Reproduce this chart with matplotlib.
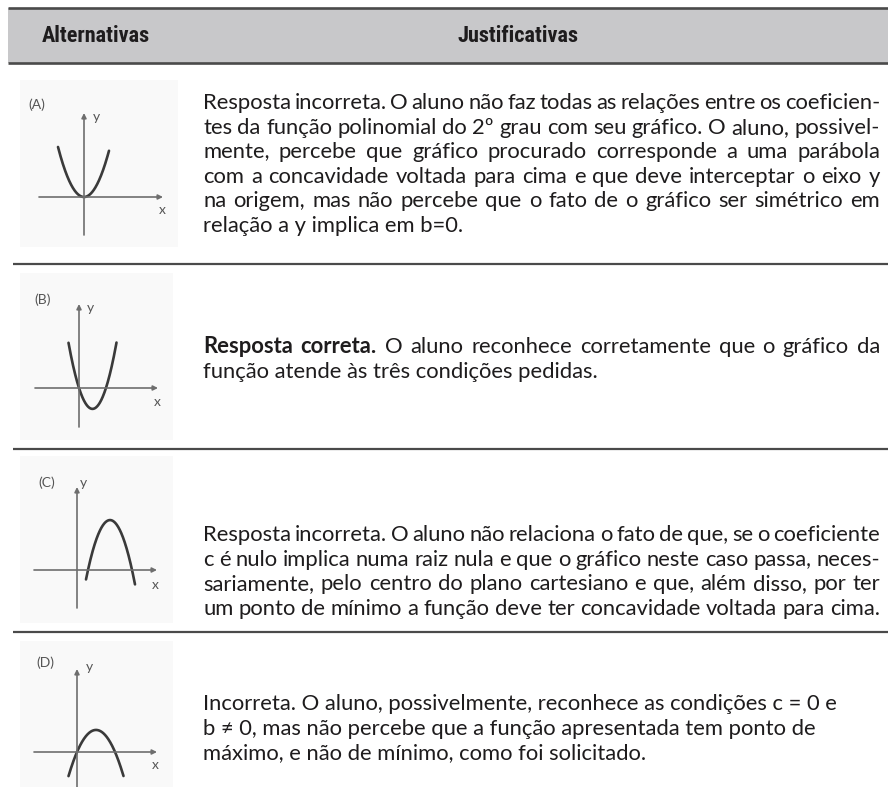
import matplotlib
matplotlib.use('Agg')
import matplotlib.pyplot as plt
from matplotlib.patches import Rectangle
from matplotlib import font_manager
import numpy as np

W, H = 888, 787
avail = {f.name for f in font_manager.fontManager.ttflist}
BODY = next(f for f in ['Lato', 'Open Sans', 'DejaVu Sans'] if f in avail)
HEAD = next(f for f in ['Roboto Condensed', 'Liberation Sans Narrow', BODY] if f in avail)
plt.rcParams['font.family'] = [BODY, 'DejaVu Sans']

# ---------------- data ----------------
header_left = 'Alternativas'
header_right = 'Justificativas'
letters = ['(A)', '(B)', '(C)', '(D)']
# parabolas y = a x^2 + b x + c  (sketch units)
coef_a = [0.74, 1.15, -1.03, -0.61]
coef_b = [0.0, -3.1, 6.8, 2.32]
coef_c = [0.0, 0.0, -6.23, 0.0]
x_from = [-2.6, -1.05, 0.9, -0.85]
x_to = [2.5, 3.75, 5.8, 4.65]

text_A = ['Resposta incorreta. O aluno não faz todas as relações entre os coeficien-',
          'tes da função polinomial do 2º grau com seu gráfico. O aluno, possivel-',
          'mente, percebe que gráfico procurado corresponde a uma parábola',
          'com a concavidade voltada para cima e que deve interceptar o eixo y',
          'na origem, mas não percebe que o fato de o gráfico ser simétrico em',
          'relação a y implica em b=0.']
text_B = ['Resposta correta. O aluno reconhece corretamente que o gráfico da',
          'função atende às três condições pedidas.']
text_C = ['Resposta incorreta. O aluno não relaciona o fato de que, se o coeficiente',
          'c é nulo implica numa raiz nula e que o gráfico neste caso passa, neces-',
          'sariamente, pelo centro do plano cartesiano e que, além disso, por ter',
          'um ponto de mínimo a função deve ter concavidade voltada para cima.']
text_D = ['Incorreta. O aluno, possivelmente, reconhece as condições c = 0 e',
          'b ≠ 0, mas não percebe que a função apresentada tem ponto de',
          'máximo, e não de mínimo, como foi solicitado.']
texts = [text_A, text_B, text_C, text_D]
justify = [[1, 1, 1, 1, 1, 0], [1, 0], [1, 1, 1, 1], [0, 0, 0]]
bold_words = [0, 2, 0, 0]

# ---------------- layout ----------------
TXT = '#1e1c1d'
LINE = '#4a4a4a'
line_y0 = [109, 353, 541, 710]   # baselines of first lines
line_dy = 24.6
TX0, TX1 = 203, 880
boxes = [(20, 80, 178, 247), (20, 273, 173, 440), (20, 456, 173, 623), (20, 641, 173, 787)]
origins = [(84, 197), (79, 388), (77, 570), (77, 752)]
S = 10.0
axis_x = [(-4.5, 7.9), (-4.4, 7.9), (-4.3, 8.0), (-4.3, 8.0)]
axis_y = [(-3.8, 8.4), (-3.9, 8.4), (-3.8, 8.3), (-3.7, 8.3)]
lab_pos = [(-4.7, 9.2), (-3.6, 8.8), (-3.0, 8.7), (-3.2, 8.9)]
y_pos = [(1.2, 8.0), (1.1, 8.0), (0.6, 8.7), (1.2, 8.5)]
x_pos = [(7.8, -1.3), (7.8, -1.4), (7.8, -1.5), (7.8, -1.3)]

fig = plt.figure(figsize=(W / 100, H / 100), dpi=100)
ax = fig.add_axes([0, 0, 1, 1])
ax.set_xlim(0, W)
ax.set_ylim(H, 0)
ax.axis('off')
renderer = fig.canvas.get_renderer()


def width(s, fs, weight='normal', family=None):
    t = ax.text(0, 0, s, fontsize=fs, fontweight=weight,
                family=family if family else [BODY, 'DejaVu Sans'])
    w = t.get_window_extent(renderer).width
    t.remove()
    return w


FS = 10 * (838 - TX0) / width(text_D[0], 10)
FSH = 10 * 108 / width(header_left, 10, 'bold', [HEAD, 'DejaVu Sans'])

# header
ax.add_patch(Rectangle((8, 8), W - 8, 55, fc='#c8c8ca', ec='none', zorder=0))
for yy in (8, 63):
    ax.plot([8, W], [yy, yy], color=LINE, lw=1.9, solid_capstyle='butt')
ax.text(96, 36, header_left, fontsize=FSH, fontweight='bold', color=TXT, ha='center', va='center',
        family=[HEAD, 'DejaVu Sans'])
ax.text(518, 36, header_right, fontsize=FSH, fontweight='bold', color=TXT, ha='center', va='center',
        family=[HEAD, 'DejaVu Sans'])
for yy in (264, 449, 632):
    ax.plot([13, W], [yy, yy], color=LINE, lw=1.6, solid_capstyle='butt')

# body text
for r, lines in enumerate(texts):
    for i, line in enumerate(lines):
        y = line_y0[r] + i * line_dy
        words = line.split(' ')
        weights = ['bold' if (i == 0 and k < bold_words[r]) else 'normal' for k in range(len(words))]
        if justify[r][i]:
            ws = [width(w_, FS, wt) for w_, wt in zip(words, weights)]
            gap = (TX1 - TX0 - sum(ws)) / (len(words) - 1)
            x = TX0
            for w_, wt, wd in zip(words, weights, ws):
                ax.text(x, y, w_, fontsize=FS, fontweight=wt, color=TXT, ha='left', va='baseline')
                x += wd + gap
        else:
            ax.text(TX0, y, line, fontsize=FS, color=TXT, ha='left', va='baseline')

# mini graphs
for g in range(4):
    x0, y0, x1, y1 = boxes[g]
    ox, oy = origins[g]
    sub = fig.add_axes([x0 / W, 1 - y1 / H, (x1 - x0) / W, (y1 - y0) / H])
    sub.set_xlim((x0 - ox) / S, (x1 - ox) / S)
    sub.set_ylim((oy - y1) / S, (oy - y0) / S)
    sub.set_facecolor('#f9f9f9')
    for sp in sub.spines.values():
        sp.set_visible(False)
    sub.set_xticks([])
    sub.set_yticks([])
    ap = dict(arrowstyle='-|>', color='#6e6e6e', lw=1.2, mutation_scale=7, shrinkA=0, shrinkB=0)
    sub.annotate('', xy=(axis_x[g][1], 0), xytext=(axis_x[g][0], 0), arrowprops=ap)
    sub.annotate('', xy=(0, axis_y[g][1]), xytext=(0, axis_y[g][0]), arrowprops=ap)
    xs = np.linspace(x_from[g], x_to[g], 200)
    ys = coef_a[g] * xs ** 2 + coef_b[g] * xs + coef_c[g]
    sub.plot(xs, ys, color='#3a3a3a', lw=1.9, solid_capstyle='round')
    sub.text(*lab_pos[g], letters[g], fontsize=10, color='#555555', ha='center', va='center')
    sub.text(*y_pos[g], 'y', fontsize=10, color='#555555', ha='center', va='center')
    sub.text(*x_pos[g], 'x', fontsize=10, color='#555555', ha='center', va='center')

fig.savefig('out.png', dpi=100)
